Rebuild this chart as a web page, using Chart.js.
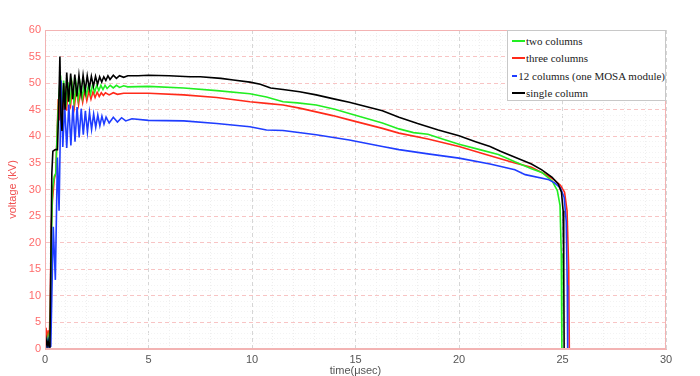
<!DOCTYPE html>
<html>
<head>
<meta charset="utf-8">
<script src="https://cdn.jsdelivr.net/npm/chart.js@4.4.1/dist/chart.umd.min.js"></script>
<style>
  html, body { margin: 0; padding: 0; background: #fff; }
  #wrap { position: relative; width: 700px; height: 376px; }
  #legend {
    position: absolute; left: 507px; top: 30px; width: 157px; height: 68px;
    border: 1px solid #c8c8c8; background: #fff; box-sizing: content-box;
    font-family: "Liberation Serif", "Times New Roman", serif; font-size: 11px; color: #222;
    padding-top: 1px;
  }
  .row { height: 17.5px; display: flex; align-items: center; white-space: nowrap; }
  .swatch { width: 13px; height: 2px; margin-left: 4px; margin-right: 1px; }
</style>
</head>
<body>
<div id="wrap">
  <canvas id="c" width="700" height="376"></canvas>
  <div id="legend"></div>
</div>
<script>
// ---- data (time in µs, voltage in kV) ----
const seriesNames = ["two columns", "three columns", "12 columns (one MOSA module)", "single column"];
const seriesColors = ["#22ee22", "#ff2a1a", "#1f3dff", "#000000"];

const twoColumns = [
  [0,0.8],[0.05,1.5],[0.1,0.6],[0.15,2.2],[0.2,0.8],[0.25,3],[0.3,18],[0.36,30],[0.45,32.5],[0.52,33],
  [0.6,42],[0.68,48],[0.75,51.5],[0.82,45.5],[0.9,50.5],[1.0,45.5],[1.1,50.2],[1.2,46],[1.3,50],[1.4,46.5],
  [1.5,49.9],[1.6,47],[1.7,49.8],[1.8,47.3],[1.9,49.8],[2.0,47.7],[2.1,49.7],[2.2,48],[2.3,49.7],[2.4,48.3],
  [2.5,49.6],[2.6,48.6],[2.7,49.6],[2.8,48.8],[2.9,49.6],[3.0,49.0],[3.15,49.6],[3.3,49.1],[3.45,49.6],[3.6,49.2],
  [3.8,49.5],[4.0,49.3],[5,49.4],[6.7,49.1],[8.3,48.6],[9.9,48.0],[10.7,47.4],[11.5,46.5],[12.2,46.3],[13.1,45.9],
  [14,45.1],[14.7,44.3],[15.5,43.4],[16.3,42.5],[17.1,41.4],[17.8,40.7],[18.5,40.4],[19.2,39.5],[20,38.5],[21,37.5],
  [21.9,36.6],[22.7,35.2],[23.5,33.9],[24,33.2],[24.5,31.6],[24.75,29.8],[24.88,27],[24.94,18],[24.97,0]
];
const threeColumns = [
  [0,0.5],[0.05,4],[0.1,1],[0.15,3.5],[0.2,0.8],[0.25,8],[0.3,23],[0.36,28],[0.45,32],[0.52,33],
  [0.58,40],[0.64,47],[0.7,43],[0.78,50],[0.86,45],[0.95,49.5],[1.04,44.8],[1.13,49.4],[1.22,45.2],[1.32,49.2],
  [1.42,45.6],[1.52,49],[1.62,46],[1.72,48.8],[1.82,46.4],[1.92,48.6],[2.02,46.7],[2.12,48.5],[2.22,47],[2.32,48.4],
  [2.42,47.3],[2.52,48.3],[2.62,47.5],[2.72,48.2],[2.82,47.7],[2.92,48.2],[3.1,47.8],[3.3,48.2],[3.5,47.9],[3.8,48.1],
  [4.2,48.1],[5,48.1],[6.7,47.8],[8.3,47.3],[9.9,46.5],[10.7,46.2],[11.5,45.9],[12.3,45.3],[13.1,44.6],[13.9,43.9],
  [14.7,43.1],[15.5,42.3],[16.3,41.5],[17.1,40.6],[18.5,39.5],[20,38.1],[21.3,36.6],[22.7,35.0],[23.5,34.2],[24.2,32.8],
  [24.6,31.8],[24.9,30.8],[25.1,29.5],[25.22,26],[25.3,15],[25.33,0]
];
const twelveColumns = [
  [0,0.3],[0.05,1.5],[0.1,0.4],[0.15,1.6],[0.2,0.3],[0.28,0.5],[0.33,10],[0.4,23],[0.5,13],[0.6,36],
  [0.68,26],[0.78,50.5],[0.86,38],[0.95,46],[1.05,37.8],[1.15,46],[1.25,38.3],[1.35,45.8],[1.45,39],[1.55,45.5],
  [1.65,39.8],[1.75,45.2],[1.85,40.3],[1.95,44.8],[2.05,40.8],[2.15,44.5],[2.25,41.3],[2.35,44.2],[2.45,41.7],[2.55,44],
  [2.65,42],[2.75,43.8],[2.85,42.3],[2.95,43.6],[3.1,42.5],[3.3,43.6],[3.5,42.7],[3.7,43.5],[3.9,42.9],[4.2,43.3],
  [5,43.0],[6.7,42.9],[8.3,42.4],[9.9,41.8],[10.7,41.2],[11.5,41.1],[13.1,40.3],[14.7,39.3],[16.3,38.1],[17.1,37.5],
  [18.5,36.7],[20,35.9],[21.5,34.8],[22.7,33.7],[23.2,32.8],[24.3,31.9],[24.6,31.3],[24.9,30.3],[25.08,28.5],[25.18,24],
  [25.23,12],[25.25,0]
];
const singleColumn = [
  [0,0.5],[0.05,1.8],[0.1,0.6],[0.15,1.5],[0.2,0.4],[0.24,2],[0.28,15],[0.33,33],[0.38,37.2],[0.5,37.5],
  [0.6,37.5],[0.66,45],[0.72,55],[0.77,44],[0.82,41],[0.9,50],[0.97,45],[1.05,52],[1.14,46.5],[1.24,51.8],
  [1.34,47],[1.44,51.6],[1.54,47.5],[1.64,51.5],[1.74,48],[1.84,51.5],[1.94,48.5],[2.04,51.4],[2.14,49],[2.24,51.3],
  [2.34,49.4],[2.44,51.3],[2.54,49.8],[2.64,51.2],[2.74,50.2],[2.84,51.2],[2.94,50.5],[3.04,51.4],[3.14,50.7],[3.3,51.5],
  [3.45,50.9],[3.6,51.4],[3.8,51.1],[4.0,51.4],[4.5,51.4],[5,51.5],[6,51.4],[7,51.2],[7.5,51.2],[8.5,50.9],
  [9.1,50.6],[9.9,50.2],[10.4,49.8],[10.9,49.1],[11.5,48.8],[12.3,48.4],[13.1,47.8],[14,47.0],[14.7,46.4],[15.5,45.6],
  [16.3,44.8],[17.1,43.6],[18,42.4],[19,41.2],[20,40.1],[20.8,39.0],[21.5,38.1],[22,37.2],[23,35.6],[23.5,34.8],
  [24,33.7],[24.5,32.3],[24.8,31],[24.95,29.5],[25.03,26],[25.06,15],[25.08,0]
];

const xTickLabels = ["0", "5", "10", "15", "20", "25", "30"];
const yTickLabels = ["0","5","10","15","20","25","30","35","40","45","50","55","60"];
const xTitle = "time(\u03bcsec)";
const yTitle = "voltage (kV)";

const seriesData = [twoColumns, threeColumns, twelveColumns, singleColumn];
const drawOrder = [3, 4, 2, 1];

// ---- chart ----
const datasets = seriesData.map((pts, i) => ({
  label: seriesNames[i],
  data: pts.map(p => ({ x: p[0], y: p[1] })),
  borderColor: seriesColors[i],
  backgroundColor: seriesColors[i],
  borderWidth: 1.6,
  pointRadius: 0,
  tension: 0,
  fill: false,
  order: drawOrder[i]
}));

const isMajor = (ctx, step) => ctx.tick && Math.abs(ctx.tick.value % step) < 1e-9;

const frame = {
  id: 'frame',
  afterDatasetsDraw(chart) {
    const a = chart.chartArea, c = chart.ctx;
    c.save();
    c.strokeStyle = '#f3b3b3';
    c.lineWidth = 1;
    c.setLineDash([]);
    c.strokeRect(a.left + 0.5, a.top + 0.5, a.right - a.left - 1, a.bottom - a.top - 1);
    c.restore();
  }
};

new Chart(document.getElementById('c'), {
  type: 'line',
  data: { datasets },
  plugins: [frame],
  options: {
    responsive: false,
    animation: false,
    devicePixelRatio: 1,
    layout: { padding: { left: 0, right: 34, top: 30, bottom: 0 } },
    plugins: { legend: { display: false }, tooltip: { enabled: false } },
    scales: {
      x: {
        type: 'linear', min: 0, max: 30,
        afterFit(s) { s.height = 27; },
        ticks: {
          stepSize: 1, autoSkip: false, maxRotation: 0, padding: 4,
          color: '#555', font: { family: 'Liberation Sans, Arial, sans-serif', size: 11 },
          callback: v => (v % 5 === 0 ? xTickLabels[v / 5] : '')
        },
        grid: {
          drawTicks: false,
          color: ctx => (isMajor(ctx, 5) ? '#d6d6d6' : '#eeeeee'),
          lineWidth: 1
        },
        border: {
          display: true, color: '#f3b3b3',
          dash: ctx => (ctx.tick ? (isMajor(ctx, 5) ? [4, 3] : [1, 2]) : [])
        },
        title: {
          display: true, text: xTitle, color: '#555', padding: { top: 0, bottom: -2 },
          font: { family: 'Liberation Sans, Arial, sans-serif', size: 11 }
        }
      },
      y: {
        type: 'linear', min: 0, max: 60,
        afterFit(s) { s.width = 45; },
        ticks: {
          stepSize: 1, autoSkip: false, padding: 4,
          color: '#ff6b6b', font: { family: 'Liberation Sans, Arial, sans-serif', size: 11 },
          callback: v => (v % 5 === 0 ? yTickLabels[v / 5] : '')
        },
        grid: {
          drawTicks: false,
          color: ctx => (isMajor(ctx, 5) ? '#f8c4c4' : '#f3f3f3'),
          lineWidth: 1
        },
        border: {
          display: true, color: '#f3b3b3',
          dash: ctx => (ctx.tick ? (isMajor(ctx, 5) ? [4, 3] : [1, 2]) : [])
        },
        title: {
          display: true, text: yTitle, color: '#f05050', padding: { top: 6, bottom: 0 },
          font: { family: 'Liberation Sans, Arial, sans-serif', size: 11 }
        }
      }
    }
  }
});

// ---- legend overlay (real text) ----
const lg = document.getElementById('legend');
seriesNames.forEach((n, i) => {
  const r = document.createElement('div');
  r.className = 'row';
  const s = document.createElement('span');
  s.className = 'swatch';
  s.style.background = seriesColors[i];
  const t = document.createElement('span');
  t.textContent = n;
  r.appendChild(s); r.appendChild(t);
  lg.appendChild(r);
});
</script>
</body>
</html>
